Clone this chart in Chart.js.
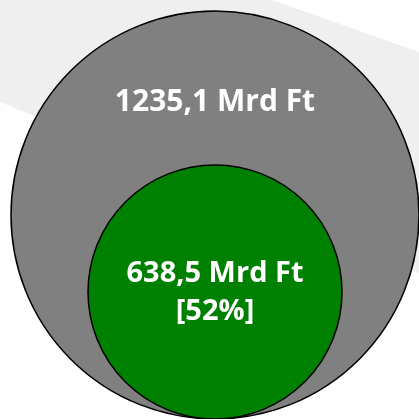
<!DOCTYPE html>
<html>
<head>
<meta charset="utf-8">
<script src="https://cdn.jsdelivr.net/npm/chart.js@4"></script>
<style>
  html, body { margin: 0; padding: 0; background: #ffffff; }
  #wrap { width: 419px; height: 419px; }
</style>
</head>
<body>
<div id="wrap"><canvas id="chart" width="419" height="419"></canvas></div>
<script>
// data
const categories = ["Összesen", "Részösszeg"];
const values = [1235.1, 638.5];
const valueLabels = [["1235,1 Mrd Ft"], ["638,5 Mrd Ft", "[52%]"]];
const circleRadius = [204, 127];

const fills = ["#808080", "#008000"];
const labelSize = [30, 29];

// light diagonal band behind the circles
const backdrop = {
  id: "backdrop",
  beforeDraw(chart) {
    const ctx = chart.ctx;
    ctx.save();
    ctx.fillStyle = "#efefef";
    ctx.beginPath();
    ctx.moveTo(0, 0);
    ctx.lineTo(272, 0);
    ctx.lineTo(419, 52);
    ctx.lineTo(419, 273);
    ctx.lineTo(0, 102);
    ctx.closePath();
    ctx.fill();
    ctx.restore();
  },
};

// white text inside each circle
const circleLabels = {
  id: "circleLabels",
  afterDatasetsDraw(chart) {
    const ctx = chart.ctx;
    ctx.save();
    ctx.fillStyle = "#ffffff";
    ctx.textAlign = "center";
    ctx.textBaseline = "middle";
    chart.data.datasets.forEach((ds, i) => {
      const el = chart.getDatasetMeta(i).data[0];
      const lines = valueLabels[i];
      ctx.font = "bold " + labelSize[i] + "px 'Open Sans', sans-serif";
      if (i === 0) {
        ctx.fillText(lines[0], el.x, el.y - circleRadius[i] * 0.55);
      } else {
        const gap = 38;
        const top = el.y + 1 - (gap * (lines.length - 1)) / 2;
        lines.forEach((t, k) => ctx.fillText(t, el.x, top + k * gap));
      }
    });
    ctx.restore();
  },
};

new Chart(document.getElementById("chart"), {
  type: "bubble",
  data: {
    datasets: categories.map((c, i) => ({
      label: c,
      data: [{ x: 0, y: circleRadius[i], r: circleRadius[i], v: values[i] }],
      backgroundColor: fills[i],
      borderColor: "#000000",
      borderWidth: 1.5,
      hoverRadius: 0,
      clip: false,
      order: -i, // small circle on top
    })),
  },
  options: {
    responsive: false,
    animation: false,
    layout: { padding: 0, autoPadding: false },
    plugins: {
      legend: { display: false },
      tooltip: { enabled: false },
    },
    scales: {
      x: { display: false, min: -215, max: 204 },
      y: { display: false, min: 0, max: 419 },
    },
  },
  plugins: [backdrop, circleLabels],
});
</script>
</body>
</html>
